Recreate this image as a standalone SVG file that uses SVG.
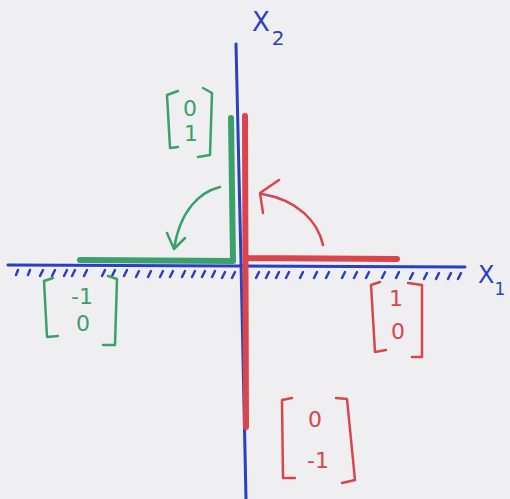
<svg xmlns="http://www.w3.org/2000/svg" width="510" height="499" viewBox="0 0 510 499">
<style>
.b{stroke:#2b3fc0;fill:none;stroke-linecap:round}
.g{stroke:#3aa06c;fill:none;stroke-linecap:round;stroke-linejoin:round}
.r{stroke:#d9454c;fill:none;stroke-linecap:round;stroke-linejoin:round}
.tb{fill:#2b3fc0;font-family:"DejaVu Sans",sans-serif}
.tg{fill:#3aa06c;font-family:"DejaVu Sans",sans-serif;font-size:22px;text-anchor:middle}
.tr{fill:#d9454c;font-family:"DejaVu Sans",sans-serif;font-size:22px;text-anchor:middle}
</style>
<rect width="510" height="499" fill="#efeff1"/>
<g id="axes">
<path class="b" stroke-width="3" d="M236 44 L241 262 L246 499"/>
<path class="b" stroke-width="3" d="M8 265 L465 267"/>
<path class="b" stroke-width="2.5" d="M16 275l2-5M28 275l2-5M40 276l3-6M52 276l3-6M64 276l3-6M72 276l3-6M84 276l3-6M102 276l3-6M112 276l3-6M124 276l3-6M136 277l3-6M148 277l3-6M160 277l3-6M170 277l3-6M182 277l3-6M192 277l3-6M202 277l3-6M212 277l3-6M222 278l3-6M232 278l3-6M256 278l3-6M266 278l3-6M276 278l3-6M286 278l3-6M300 278l3-6M314 278l3-6M326 278l3-6M342 278l3-6M354 278l3-6M366 278l3-6M382 278l3-6M396 278l3-6M410 279l3-6M424 279l3-6M436 279l3-6M448 279l3-6M458 279l3-6"/>
<text class="tb" x="252" y="31" font-size="26">X<tspan font-size="20" dx="2" dy="14">2</tspan></text>
<text class="tb" x="478" y="283" font-size="24">X<tspan font-size="17" dx="0" dy="12">1</tspan></text>
</g>
<g id="green-vectors">
<path class="g" stroke-width="6" d="M231 118 L233 261 L80 260"/>
<path class="g" stroke-width="2.5" d="M220 187 C200 192 180 210 174 249 M167 233 L174 249 L185 238"/>
</g>
<g id="red-vectors">
<path class="r" stroke-width="6" d="M245 116 L246 427 M246 258 L397 259"/>
<path class="r" stroke-width="2.5" d="M323 245 C318 222 298 200 262 194 M279 180 L260 193 L263 213"/>
</g>
<g id="matrix-green-01">
<path class="g" stroke-width="2.5" d="M178 91 L167 95 L170 148 L178 147 M203 88 L212 93 L210 155 L198 157"/>
<text class="tg" x="190" y="116">0</text>
<text class="tg" x="191" y="141">1</text>
</g>
<g id="matrix-green-m10">
<path class="g" stroke-width="2.5" d="M53 278 L44 281 L47 337 L58 336 M108 276 L117 279 L115 345 L103 345"/>
<text class="tg" x="82" y="304">-1</text>
<text class="tg" x="83" y="331">0</text>
</g>
<g id="matrix-red-10">
<path class="r" stroke-width="2.5" d="M380 282 L371 285 L375 352 L386 350 M408 283 L422 285 L422 357 L412 357"/>
<text class="tr" x="396" y="306">1</text>
<text class="tr" x="398" y="339">0</text>
</g>
<g id="matrix-red-0m1">
<path class="r" stroke-width="2.5" d="M292 398 L282 400 L283 478 L295 478 M336 398 L347 399 L355 480 L342 483"/>
<text class="tr" x="315" y="427">0</text>
<text class="tr" x="318" y="468">-1</text>
</g>
</svg>
